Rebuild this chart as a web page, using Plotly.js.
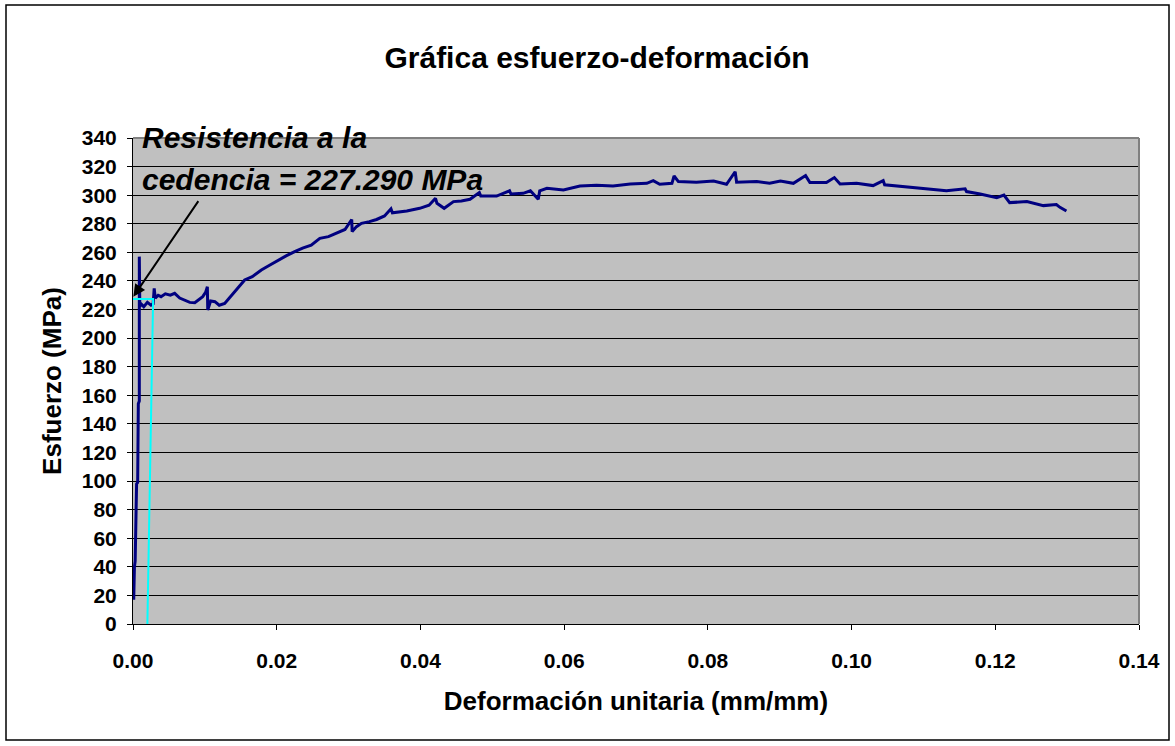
<!DOCTYPE html>
<html>
<head>
<meta charset="utf-8">
<script src="https://cdn.plot.ly/plotly-3.0.1.min.js"></script>
<style>html,body{margin:0;padding:0;background:#fff;}#chart{width:1175px;height:746px;}</style>
</head>
<body>
<div id="chart"></div>
<script>
// Stress-strain curve
const strain = [0.0001,0.0001,0.0002,0.0003,0.00037,0.00045,0.0005,0.00065,0.0007,0.00074,0.00088,0.0009,0.00092,0.00088,0.00095,0.0011,0.0015,0.002,0.0025,0.0028,0.00295,0.0031,0.0035,0.0039,0.0045,0.0052,0.0058,0.0065,0.0072,0.0079,0.0086,0.0092,0.0097,0.0101,0.01035,0.0104,0.0108,0.0114,0.0120,0.01276,0.0134,0.01415,0.0148,0.01554,0.0166,0.01786,0.0190,0.0202,0.0213,0.0225,0.0236,0.0248,0.0260,0.0272,0.02835,0.0295,0.03044,0.0305,0.0311,0.0318,0.0329,0.0339,0.0350,0.0359,0.0361,0.0381,0.0399,0.0412,0.0421,0.0423,0.0433,0.0446,0.0457,0.0469,0.0482,0.0484,0.0506,0.0524,0.0526,0.0543,0.0553,0.0564,0.0566,0.0576,0.0599,0.0622,0.0645,0.0668,0.0692,0.0715,0.0724,0.0733,0.0750,0.0753,0.0759,0.0784,0.0808,0.0826,0.0838,0.0840,0.0868,0.0886,0.0901,0.0919,0.0936,0.0942,0.0965,0.0976,0.0984,0.1007,0.1030,0.1044,0.1046,0.1063,0.1086,0.1109,0.1132,0.1158,0.1160,0.1179,0.1202,0.1212,0.1220,0.1244,0.1267,0.1285,0.1290,0.1299];
const stress = [17,30,40,44,60,85,98,99,130,154,156,190,210,257,222,224,222,225,223,224,234.8,228,230,229,231,230,231.3,228,226.7,225,224.8,227,229,232,236,219.7,226,225.5,223,224.3,228,232.5,236,240.7,243,247.7,251,254.7,257.5,260.5,263,265,269.8,271,273.3,276,283,274.5,278,280.3,281.5,283,285.5,290.5,287.7,289,290.8,293,297.8,294.3,290.8,295.5,296,297.1,301.8,299.4,299.4,303.1,300.8,301.3,303.1,297.1,303,304.8,303.6,306.4,307,306.4,307.8,308.3,310.2,307.6,308.3,313.4,309.5,309,309.9,307.6,316.4,309,309.5,308.3,309.9,308.3,313.7,308.8,308.8,312.3,307.8,308.3,306.7,310.2,307.3,306.4,305.3,304.1,303.1,304.5,302.5,300.8,298.3,300.1,294.8,295.5,292.7,293.5,291.5,288.9];

// Yield (offset) construction lines
const yieldStrain = [0, 0.0028, 0.0020];
const yieldStress = [227.29, 227.29, 0];

const titleText = 'Gráfica esfuerzo-deformación';
const xTitle = 'Deformación unitaria (mm/mm)';
const yTitle = 'Esfuerzo (MPa)';
const noteLine1 = 'Resistencia a la';
const noteLine2 = 'cedencia = 227.290 MPa';

const FONT = '"Liberation Sans", Arial, sans-serif';
const L = 133, R = 1139, T = 138, B = 624, W = 1175, H = 746;
const px = v => (v - L) / (R - L);
const py = v => (B - v) / (B - T);

const traces = [
  {x: strain, y: stress, mode: 'lines', type: 'scatter',
   line: {color: '#000080', width: 3}, hoverinfo: 'skip', showlegend: false},
  {x: yieldStrain, y: yieldStress, mode: 'lines', type: 'scatter',
   line: {color: '#00ffff', width: 2}, hoverinfo: 'skip', showlegend: false}
];

const layout = {
  width: W, height: H,
  margin: {l: L, r: W - R, t: T, b: H - B, pad: 0},
  paper_bgcolor: '#ffffff',
  plot_bgcolor: '#c0c0c0',
  showlegend: false,
  font: {family: FONT, color: '#000'},
  title: {text: '<b>' + titleText + '</b>', font: {family: FONT, size: 30, color: '#000'},
          xref: 'container', yref: 'container', x: 597 / W, y: 1 - 57 / H,
          xanchor: 'center', yanchor: 'middle'},
  xaxis: {
    range: [0, 0.14], dtick: 0.02, tick0: 0, tickformat: '.2f',
    showgrid: false, zeroline: false,
    showline: true, linecolor: '#000', linewidth: 1,
    ticks: 'outside', ticklen: 5, tickcolor: '#000', tickwidth: 1,
    tickfont: {family: FONT, size: 21, color: '#000', weight: 'bold'},
    ticklabelstandoff: 13,
    title: {text: '<b>' + xTitle + '</b>', font: {family: FONT, size: 26, color: '#000'}, standoff: 20}
  },
  yaxis: {
    range: [0, 340], dtick: 20, tick0: 0,
    showgrid: true, gridcolor: '#000', gridwidth: 1, zeroline: false,
    showline: true, linecolor: '#000', linewidth: 1,
    ticks: 'outside', ticklen: 5, tickcolor: '#000', tickwidth: 1,
    tickfont: {family: FONT, size: 21, color: '#000', weight: 'bold'},
    ticklabelstandoff: 6,
    title: {text: '<b>' + yTitle + '</b>', font: {family: FONT, size: 26, color: '#000'}, standoff: 12}
  },
  shapes: [
    {type: 'line', xref: 'paper', yref: 'paper', x0: 0, x1: 1, y0: 1, y1: 1,
     line: {color: '#808080', width: 2}, layer: 'above'},
    {type: 'line', xref: 'paper', yref: 'paper', x0: 1, x1: 1, y0: 0, y1: 1,
     line: {color: '#808080', width: 2}, layer: 'above'},
    {type: 'rect', xref: 'paper', yref: 'paper',
     x0: px(6), x1: px(1169), y0: py(740), y1: py(5),
     line: {color: '#000', width: 1.5}, layer: 'above'}
  ],
  annotations: [
    {xref: 'paper', yref: 'paper', x: px(140), y: py(137.5), xanchor: 'left', yanchor: 'middle',
     text: '<b><i>' + noteLine1 + '</i></b>', showarrow: false,
     font: {family: FONT, size: 30, color: '#000'}},
    {xref: 'paper', yref: 'paper', x: px(140), y: py(179), xanchor: 'left', yanchor: 'middle',
     text: '<b><i>' + noteLine2 + '</i></b>', showarrow: false,
     font: {family: FONT, size: 30, color: '#000'}},
    {xref: 'x', yref: 'y', x: 0.00005, y: 229, text: '', showarrow: true,
     ax: 66, ay: -97, arrowhead: 2, arrowsize: 1.2, arrowwidth: 2, arrowcolor: '#000'}
  ]
};

Plotly.newPlot('chart', traces, layout, {staticPlot: true, displayModeBar: false});
</script>
</body>
</html>
